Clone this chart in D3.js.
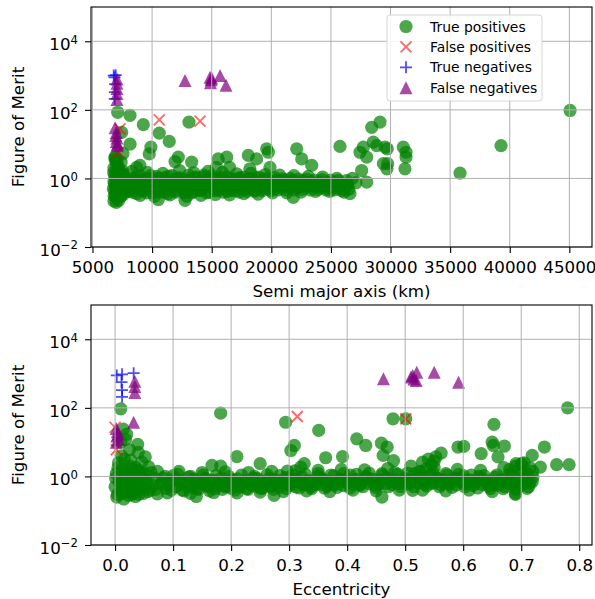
<!DOCTYPE html>
<html>
<head>
<meta charset="utf-8">
<script src="https://cdn.jsdelivr.net/npm/d3@7"></script>
<style>
  body { margin: 0; background: #fff; }
  text { font-family: "DejaVu Sans", sans-serif; fill: #000; }
</style>
</head>
<body>
<svg id="chart" width="595" height="599"></svg>
<script>
// ---- data: [semi major axis (km), figure of merit] ----
const tpA = [
  [6750,0.5],[6800,0.8],[6850,1.2],[6900,0.35],[6950,0.6],[7000,1.5],[7050,0.9],[7100,0.45],[7150,2.2],[7200,0.7],
  [7250,0.3],[7300,1.1],[7350,0.55],[7400,3.0],[7450,0.8],[7500,0.4],[7550,1.6],[7600,0.65],[7700,1.0],[7800,0.5],
  [6800,2.0],[6900,3.5],[7000,0.28],[7100,0.6],[7200,1.8],[7300,0.4],[6850,0.7],[6950,1.0],[7050,0.5],[7150,0.38],
  [7250,1.3],[7350,0.85],[7450,0.5],[7550,0.33],[7650,0.75],[6780,1.5],[6880,0.45],[7020,2.6],[7120,1.2],[7220,0.52],
  [7320,0.7],[7420,1.4],[6820,0.3],[7080,0.32],[7380,0.3],[7480,1.05],[7600,1.3],[7750,0.8],[7900,0.6],[8000,0.45],
  [6900,4.0],[7050,3.2],[6800,0.22],[7000,0.2],[7200,0.23],
  [8100,0.55],[8200,0.9],[8350,0.4],[8500,0.7],[8650,1.1],[8800,0.5],[8950,0.8],[9100,0.45],[9250,0.95],[9400,0.6],
  [9550,0.38],[9700,0.75],[9850,1.2],[10000,0.55],[10150,0.85],[10300,0.42],[10450,0.68],[10600,1.0],[10750,0.5],[10900,0.78],
  [11050,0.4],[11200,0.62],[11350,1.15],[11500,0.48],[11650,0.72],[11800,0.9],[11950,0.44],[12100,0.6],[12250,1.05],[12400,0.52],
  [12550,0.8],[12700,0.38],[12850,0.66],[13000,0.95],[13150,0.5],[13300,0.74],[13450,0.42],[13600,1.1],[13750,0.58],[13900,0.82],
  [14050,0.46],[14200,0.68],[14350,1.25],[14500,0.55],[14650,0.88],[14800,0.4],[14950,0.7],[15100,1.0],[15250,0.5],[15400,0.76],
  [15550,0.45],[15700,0.62],[15850,1.12],[16000,0.52],[16150,0.8],[16300,0.42],[16450,0.66],[16600,0.96],[16750,0.5],[16900,0.74],
  [17050,0.44],[17200,0.6],[17350,1.05],[17500,0.56],[17650,0.82],[17800,0.48],[17950,0.7],[18100,0.92],[18250,0.52],[18400,0.76],
  [18550,0.46],[18700,0.64],[18850,1.0],[19000,0.55],[19150,0.78],[19300,0.5],[19450,0.68],[19600,0.9],[19750,0.54],[19900,0.72],
  [20050,0.5],[20200,0.66],[20350,0.88],[20500,0.56],[20650,0.74],[20800,0.52],[20950,0.7],[21100,0.9],[21250,0.58],[21400,0.76],
  [21550,0.54],[21700,0.68],[21850,0.86],[22000,0.6],[22150,0.74],[22300,0.55],[22450,0.7],[22600,0.84],[22750,0.6],[22900,0.72],
  [23050,0.56],[23200,0.68],[23350,0.8],[23500,0.6],[23650,0.7],[23800,0.56],[23950,0.66],[24100,0.78],[24250,0.6],[24400,0.7],
  [24550,0.55],[24700,0.64],[24850,0.76],[25000,0.58],[25150,0.68],[25300,0.54],[25450,0.62],[25600,0.72],[25750,0.56],[25900,0.66],
  [26050,0.5],[26200,0.6],[26350,0.7],[26500,0.48],
  [8175,0.7],[8475,0.58],[8775,0.82],[9075,0.64],[9375,0.5],[9675,0.88],[9975,0.66],[10275,0.56],[10575,0.8],[10875,0.62],
  [11175,0.52],[11475,0.86],[11775,0.6],[12075,0.74],[12375,0.55],[12675,0.9],[12975,0.62],[13275,0.5],[13575,0.78],[13875,0.64],
  [14175,0.56],[14475,0.84],[14775,0.6],[15075,0.72],[15375,0.54],[15675,0.88],[15975,0.62],[16275,0.56],[16575,0.8],[16875,0.6],
  [17175,0.7],[17475,0.52],[17775,0.86],[18075,0.62],[18375,0.56],[18675,0.8],[18975,0.66],[19275,0.58],[19575,0.74],[19875,0.6],
  [20175,0.8],[20475,0.64],[20775,0.56],[21075,0.76],[21375,0.62],[21675,0.82],[21975,0.58],[22275,0.7],[22575,0.62],[22875,0.78],
  [23175,0.6],[23475,0.68],[23775,0.62],[24075,0.72],[24375,0.58],[24675,0.7],[24975,0.62],[25275,0.74],[25575,0.56],[25875,0.64],
  [26175,0.58],[26425,0.66],
  [8050,0.42],[8400,1.0],[8700,0.36],[9000,1.2],[9350,0.44],[9650,1.0],[10050,0.38],[10350,1.15],[10650,0.4],[11000,1.05],
  [11300,0.36],[11650,1.2],[12000,0.4],[12350,0.98],[12650,0.44],[13050,1.25],[13350,0.38],[13700,1.0],[14000,0.44],[14300,1.1],
  [14600,0.38],[15000,1.2],[15300,0.44],[15600,1.0],[15950,0.4],[16350,1.1],[16650,0.44],[17000,0.98],[17300,0.4],[17650,1.1],
  [17950,0.42],[18300,1.0],[18600,0.42],[18950,1.1],[19250,0.44],[19600,1.0],[19950,0.44],[20300,1.05],[20600,0.46],[20950,0.98],
  [21250,0.46],[21600,1.0],[21950,0.46],[22300,0.95],[22600,0.48],[22950,0.96],[23300,0.46],[23600,0.9],[23950,0.48],[24250,0.92],
  [24600,0.46],[24950,0.9],[25250,0.46],[25600,0.88],[25900,0.44],[26300,0.86],
  [8300,1.6],[9000,0.32],[9600,1.5],[10200,0.3],[10900,1.4],[11500,0.33],[12300,1.7],[12900,0.3],[13500,1.45],[14100,0.32],
  [14700,1.6],[15300,0.34],[15900,1.5],[16500,0.33],[17100,1.35],[17700,0.36],[18300,1.4],[18900,0.35],[19500,1.3],[20100,0.38],
  [20700,1.25],[21300,0.38],[21900,1.2],[22500,0.4],[23100,1.15],[23700,0.42],[24300,1.1],[24900,0.42],[25500,1.0],[26100,0.4],
  [7450,22],[8150,10],[7560,5.3],[6890,4.2],[9760,5.2],[9900,8.2],[11440,12],[10600,21],[13095,44],[7114,85],
  [8146,69],[9262,37],[12200,4.2],[11920,3.1],[13320,3.0],[8980,2.4],[8700,2.1],[15550,3.7],[16260,4.2],[15400,2.1],
  [16500,2.1],[18070,4.7],[18770,3.7],[19610,7.3],[19750,5.8],[19890,2.1],[18200,1.9],[22130,7.3],[22550,3.7],[23390,2.4],
  [21840,0.28],[12760,0.23],[10520,0.24],[25760,8.6],[27440,5.8],[27720,8.2],[28000,4.2],[28560,11.5],[28420,31],[29120,44],
  [28840,9.1],[29540,8.2],[29400,2.7],[29700,1.9],[27580,1.7],[28000,0.78],[26600,0.36],[29730,7.3],[31070,8.2],[31300,5.8],
  [31300,4.2],[31210,1.9],[29760,2.7],[35830,1.43],[39270,9.1],[45060,96],[27100,0.75],[26800,1.0]
];
const fpA = [[7160,5.8],[7300,28],[10600,51],[14020,47]];
const tnA = [[6780,1000],[6850,880],[6900,560],[6880,330],[6870,210],[6950,1030]];
const fnA = [
  [7050,800],[7050,600],[7050,420],[7050,300],[7050,200],
  [6900,30],[7000,22],[7050,15],[7000,12],[7100,10],[7050,9],[6950,18],
  [12760,720],[14860,900],[14950,750],[14900,620],[15000,850],[15700,1000],[16200,520]
];

// ---- data: [eccentricity, figure of merit] ----
const tpE = [
  [0.0,0.5],[0.002,1.2],[0.004,0.3],[0.006,2.5],[0.008,0.8],[0.01,0.4],[0.012,1.6],[0.014,0.6],[0.016,3.2],[0.018,0.9],
  [0.02,0.35],[0.022,1.3],[0.024,0.55],[0.026,2.0],[0.028,0.7],[0.03,0.3],[0.032,1.1],[0.034,0.5],[0.036,1.8],[0.038,0.8],
  [0.04,0.4],[0.042,1.4],[0.044,0.6],[0.046,2.6],[0.048,0.9],[0.05,0.45],[0.052,1.2],[0.055,0.65],[0.058,1.9],[0.06,0.4],
  [0.003,0.25],[0.007,0.7],[0.011,4.0],[0.015,0.22],[0.019,1.0],[0.023,0.28],[0.027,3.0],[0.031,0.8],[0.035,0.26],[0.039,1.5],
  [0.001,0.9],[0.005,1.8],[0.009,0.55],[0.013,0.32],[0.017,1.4],[0.021,0.45],[0.025,0.9],[0.029,1.7],[0.033,0.38],[0.037,1.0],
  [0.041,0.3],[0.045,1.1],[0.049,0.32],[0.053,0.8],[0.057,0.36],[0.062,1.3],[0.065,0.55],[0.068,0.9],[0.07,0.42],[0.073,1.4],
  [0.014,24],[0.02,17],[0.01,10],[0.025,6],[0.04,5],[0.018,12],
  [0.078,0.6],[0.083,0.9],[0.088,0.45],[0.094,0.72],[0.1,1.05],[0.105,0.5],[0.11,0.78],[0.116,0.4],[0.122,0.64],[0.127,0.95],
  [0.133,0.48],[0.138,0.7],[0.144,0.42],[0.15,0.6],[0.155,0.88],[0.161,0.5],[0.166,0.74],[0.172,0.44],[0.177,0.62],[0.183,0.9],
  [0.188,0.52],[0.194,0.7],[0.2,0.45],[0.205,0.6],[0.211,0.85],[0.216,0.5],[0.222,0.68],[0.227,0.44],[0.233,0.62],[0.238,0.88],
  [0.244,0.52],[0.25,0.72],[0.255,0.46],[0.261,0.64],[0.266,0.9],[0.272,0.54],[0.277,0.7],[0.283,0.48],[0.288,0.66],[0.294,0.92],
  [0.3,0.55],[0.305,0.74],[0.311,0.5],[0.316,0.68],[0.322,0.95],[0.327,0.56],[0.333,0.76],[0.338,0.5],[0.344,0.7],[0.35,1.0],
  [0.355,0.58],[0.361,0.78],[0.366,0.52],[0.372,0.72],[0.377,1.05],[0.383,0.6],[0.388,0.8],[0.394,0.54],[0.4,0.74],[0.405,1.1],
  [0.411,0.6],[0.416,0.82],[0.422,0.55],[0.427,0.75],[0.433,1.0],[0.438,0.62],[0.444,0.84],[0.45,0.56],[0.455,0.78],[0.461,1.1],
  [0.466,0.62],[0.472,0.85],[0.477,0.58],[0.483,0.8],[0.488,1.15],[0.494,0.64],[0.5,0.88],[0.505,0.6],[0.511,0.82],[0.516,1.2],
  [0.522,0.65],[0.527,0.9],[0.533,0.6],[0.538,0.82],[0.544,1.15],[0.55,0.64],[0.555,0.88],[0.561,0.58],[0.566,0.8],[0.572,1.1],
  [0.577,0.62],[0.583,0.84],[0.588,0.56],[0.594,0.78],[0.6,1.05],[0.605,0.6],[0.611,0.8],[0.616,0.55],[0.622,0.74],[0.627,1.0],
  [0.633,0.58],[0.638,0.78],[0.644,0.52],[0.65,0.72],[0.655,0.95],[0.661,0.56],[0.666,0.8],[0.672,0.5],[0.677,0.74],[0.683,1.1],
  [0.688,0.6],[0.694,0.85],[0.7,0.55],[0.705,0.9],[0.71,1.2],[0.715,0.65],[0.72,0.95],
  [0.081,0.7],[0.092,0.56],[0.103,0.8],[0.114,0.62],[0.125,0.5],[0.136,0.84],[0.147,0.62],[0.158,0.54],[0.169,0.78],[0.18,0.6],
  [0.191,0.5],[0.202,0.8],[0.213,0.6],[0.224,0.74],[0.235,0.55],[0.246,0.86],[0.257,0.62],[0.268,0.52],[0.279,0.78],[0.29,0.64],
  [0.301,0.58],[0.312,0.84],[0.323,0.62],[0.334,0.72],[0.345,0.58],[0.356,0.88],[0.367,0.66],[0.378,0.58],[0.389,0.84],[0.4,0.64],
  [0.411,0.76],[0.422,0.6],[0.433,0.9],[0.444,0.68],[0.455,0.6],[0.466,0.88],[0.477,0.7],[0.488,0.62],[0.499,0.8],[0.51,0.66],
  [0.521,0.92],[0.532,0.7],[0.543,0.62],[0.554,0.9],[0.565,0.68],[0.576,0.6],[0.587,0.86],[0.598,0.66],[0.609,0.74],[0.62,0.6],
  [0.631,0.84],[0.642,0.62],[0.653,0.56],[0.664,0.78],[0.675,0.64],[0.686,0.7],[0.697,0.62],[0.708,0.8],[0.719,0.7],
  [0.086,1.0],[0.097,0.4],[0.108,1.15],[0.119,0.38],[0.13,1.0],[0.141,0.44],[0.152,1.1],[0.163,0.38],[0.174,1.05],[0.185,0.42],
  [0.196,1.0],[0.207,0.4],[0.218,1.1],[0.229,0.42],[0.24,1.0],[0.251,0.44],[0.262,1.12],[0.273,0.42],[0.284,1.05],[0.295,0.44],
  [0.306,1.1],[0.317,0.46],[0.328,1.15],[0.339,0.44],[0.35,1.2],[0.361,0.46],[0.372,1.1],[0.383,0.48],[0.394,1.2],[0.405,0.46],
  [0.416,1.15],[0.427,0.5],[0.438,1.25],[0.449,0.48],[0.46,1.2],[0.471,0.5],[0.482,1.3],[0.493,0.5],[0.504,1.25],[0.515,0.5],
  [0.526,1.35],[0.537,0.52],[0.548,1.3],[0.559,0.5],[0.57,1.2],[0.581,0.48],[0.592,1.15],[0.603,0.5],[0.614,1.1],[0.625,0.46],
  [0.636,1.05],[0.647,0.44],[0.658,1.1],[0.669,0.44],[0.68,1.2],[0.691,0.42],[0.702,1.3],[0.713,0.5],[0.72,1.4],
  [0.09,0.33],[0.11,1.4],[0.13,0.32],[0.15,1.3],[0.17,0.34],[0.19,1.35],[0.21,0.33],[0.23,1.3],[0.25,0.35],[0.27,1.4],
  [0.29,0.36],[0.31,1.45],[0.33,0.38],[0.35,1.5],[0.37,0.36],[0.39,1.6],[0.41,0.4],[0.43,1.55],[0.45,0.38],[0.47,1.7],
  [0.49,0.4],[0.51,2.0],[0.53,0.4],[0.55,1.8],[0.57,0.38],[0.59,1.6],[0.61,0.4],[0.63,1.5],[0.65,0.36],[0.67,1.8],
  [0.69,0.32],[0.7,2.2],[0.71,0.45],
  [0.53,2.6],[0.54,3.2],[0.545,2.2],[0.535,1.6],[0.55,2.8],[0.525,1.4],[0.68,1.6],[0.69,2.0],[0.7,1.5],[0.715,1.8],[0.705,2.5],
  [0.0098,94],[0.182,70],[0.294,38],[0.351,22],[0.309,8],[0.303,5.7],[0.21,3.8],[0.25,2.35],[0.167,2.1],[0.182,2.0],
  [0.363,3.5],[0.392,3.8],[0.4165,12.5],[0.432,8],[0.459,9.4],[0.469,7.2],[0.462,4.1],[0.479,48],[0.501,48],[0.48,2.9],
  [0.562,4.8],[0.553,3.7],[0.591,7.2],[0.601,7.5],[0.631,4.6],[0.653,33],[0.65,10],[0.652,8],[0.671,7.7],[0.66,3.7],
  [0.691,2.35],[0.701,2.4],[0.719,4.1],[0.74,7.2],[0.733,1.87],[0.761,2.2],[0.7825,2.2],[0.78,100],[0.46,0.25],[0.69,0.3],
  [0.513,0.39],[0.039,8.6],[0.052,3.7],[0.326,2.35],[0.274,0.28],[0.14,0.26],[0.073,0.31],[0.297,1.43],[0.32,1.87]
];
const fpE = [[0.0,27],[0.002,6],[0.314,56],[0.501,48]];
const tnE = [[0.003,880],[0.012,950],[0.011,560],[0.012,330],[0.012,210],[0.032,1030]];
const fnE = [
  [0.034,600],[0.034,420],[0.034,280],[0.032,38],
  [0.002,25],[0.004,20],[0.003,15],[0.006,12],[0.002,10],[0.005,17],
  [0.4625,710],[0.513,880],[0.52,1100],[0.519,630],[0.51,790],[0.515,700],[0.55,1100],[0.592,560]
];

const aTicks = [5000,10000,15000,20000,25000,30000,35000,40000,45000];
const eTicks = [0.0,0.1,0.2,0.3,0.4,0.5,0.6,0.7,0.8];
const yTicks = [1e-2,1e0,1e2,1e4];
const legendLabels = ['True positives','False positives','True negatives','False negatives'];

// ---- drawing ----
const svg = d3.select('#chart');
const left = 91, right = 592;

const cross = s => `M${-s},${-s}L${s},${s}M${-s},${s}L${s},${-s}`;
const plus = s => `M${-s},0L${s},0M0,${-s}L0,${s}`;
const tri = s => `M0,${-s}L${s},${s}L${-s},${s}Z`;

const styles = [
  { kind: 'circle', color: 'green', alpha: 0.7 },
  { kind: 'cross', color: 'red', alpha: 0.6 },
  { kind: 'plus', color: 'blue', alpha: 0.7 },
  { kind: 'tri', color: 'purple', alpha: 0.7 }
];

function drawMarkers(g, data, st, x, y) {
  if (st.kind === 'circle') {
    g.selectAll(null).data(data).enter().append('circle')
      .attr('cx', d => x(d[0])).attr('cy', d => y(d[1])).attr('r', 6.6)
      .attr('fill', st.color).attr('fill-opacity', st.alpha);
  } else if (st.kind === 'tri') {
    g.selectAll(null).data(data).enter().append('path')
      .attr('transform', d => `translate(${x(d[0])},${y(d[1])})`)
      .attr('d', tri(6.5)).attr('fill', st.color).attr('fill-opacity', st.alpha);
  } else {
    g.selectAll(null).data(data).enter().append('path')
      .attr('transform', d => `translate(${x(d[0])},${y(d[1])})`)
      .attr('d', st.kind === 'cross' ? cross(5.5) : plus(6))
      .attr('fill', 'none').attr('stroke', st.color)
      .attr('stroke-opacity', st.alpha).attr('stroke-width', 1.8);
  }
}

function drawPanel(p, idx) {
  const x = d3.scaleLinear().domain(p.xDomain).range([left, right]);
  const y = d3.scaleLog().domain([1e-2, 1e5]).range([p.bottom, p.top]);

  const clipId = 'clip' + idx;
  svg.append('clipPath').attr('id', clipId).append('rect')
    .attr('x', left).attr('y', p.top).attr('width', right - left).attr('height', p.bottom - p.top);

  const pts = svg.append('g').attr('clip-path', `url(#${clipId})`);
  p.series.forEach((s, i) => drawMarkers(pts.append('g'), s, styles[i], x, y));

  // grid above markers, like matplotlib default
  const grid = svg.append('g').attr('stroke', '#b0b0b0').attr('stroke-width', 1);
  grid.selectAll(null).data(p.xTicks).enter().append('line')
    .attr('x1', d => x(d)).attr('x2', d => x(d)).attr('y1', p.top).attr('y2', p.bottom);
  grid.selectAll(null).data(yTicks).enter().append('line')
    .attr('x1', left).attr('x2', right).attr('y1', d => y(d)).attr('y2', d => y(d));

  // axes
  const gx = svg.append('g').attr('transform', `translate(0,${p.bottom})`)
    .call(d3.axisBottom(x).tickValues(p.xTicks).tickFormat(p.fmt).tickSizeOuter(0).tickSizeInner(6).tickPadding(8));
  gx.select('.domain').remove();
  gx.selectAll('.tick line').attr('stroke', '#000').attr('stroke-width', 1.1);
  gx.selectAll('.tick text').attr('font-size', '16.7px').attr('fill', '#000')
    .attr('font-family', '"DejaVu Sans", sans-serif');

  const gy = svg.append('g').attr('transform', `translate(${left},0)`)
    .call(d3.axisLeft(y).tickValues(yTicks).tickSizeOuter(0).tickSizeInner(6).tickPadding(7));
  gy.select('.domain').remove();
  gy.selectAll('.tick line').attr('stroke', '#000').attr('stroke-width', 1.1);
  gy.selectAll('.tick text').attr('font-size', '16.7px').attr('fill', '#000')
    .attr('font-family', '"DejaVu Sans", sans-serif').attr('dy', '0.5em')
    .text(null)
    .each(function (d) {
      const e = Math.round(Math.log10(d));
      const t = d3.select(this);
      t.append('tspan').text('10');
      t.append('tspan').attr('dy', '-0.55em').attr('font-size', '11.7px')
        .text(e < 0 ? '\u2212' + (-e) : String(e));
    });

  // frame
  svg.append('rect').attr('x', left).attr('y', p.top)
    .attr('width', right - left).attr('height', p.bottom - p.top)
    .attr('fill', 'none').attr('stroke', '#000').attr('stroke-width', 1.1);

  // labels
  svg.append('text').attr('x', (left + right) / 2).attr('y', p.bottom + 50)
    .attr('text-anchor', 'middle').attr('font-size', '16.7px').text(p.xLabel);
  svg.append('text')
    .attr('transform', `translate(24,${(p.top + p.bottom) / 2}) rotate(-90)`)
    .attr('text-anchor', 'middle').attr('font-size', '16.7px').text('Figure of Merit');

  if (p.legend) {
    const lg = svg.append('g').attr('transform', 'translate(387,15)');
    lg.append('rect').attr('width', 155).attr('height', 86).attr('rx', 3)
      .attr('fill', '#fff').attr('fill-opacity', 0.85)
      .attr('stroke', '#d6d6d6').attr('stroke-width', 1);
    legendLabels.forEach((lab, i) => {
      const cy = 11.5 + i * 20.4;
      const row = lg.append('g');
      drawMarkers(row, [[0, 0]], styles[i], () => 19, () => cy);
      row.append('text').attr('x', 43).attr('y', cy).attr('dy', '0.36em')
        .attr('font-size', '13.9px').text(lab);
    });
  }
}

const panels = [
  { top: 7, bottom: 247, xDomain: [4875, 46900], xTicks: aTicks, fmt: d3.format('d'),
    xLabel: 'Semi major axis (km)', series: [tpA, fpA, tnA, fnA], legend: true },
  { top: 305, bottom: 545, xDomain: [-0.0415, 0.822], xTicks: eTicks, fmt: d3.format('.1f'),
    xLabel: 'Eccentricity', series: [tpE, fpE, tnE, fnE], legend: false }
];
panels.forEach(drawPanel);
</script>
</body>
</html>
